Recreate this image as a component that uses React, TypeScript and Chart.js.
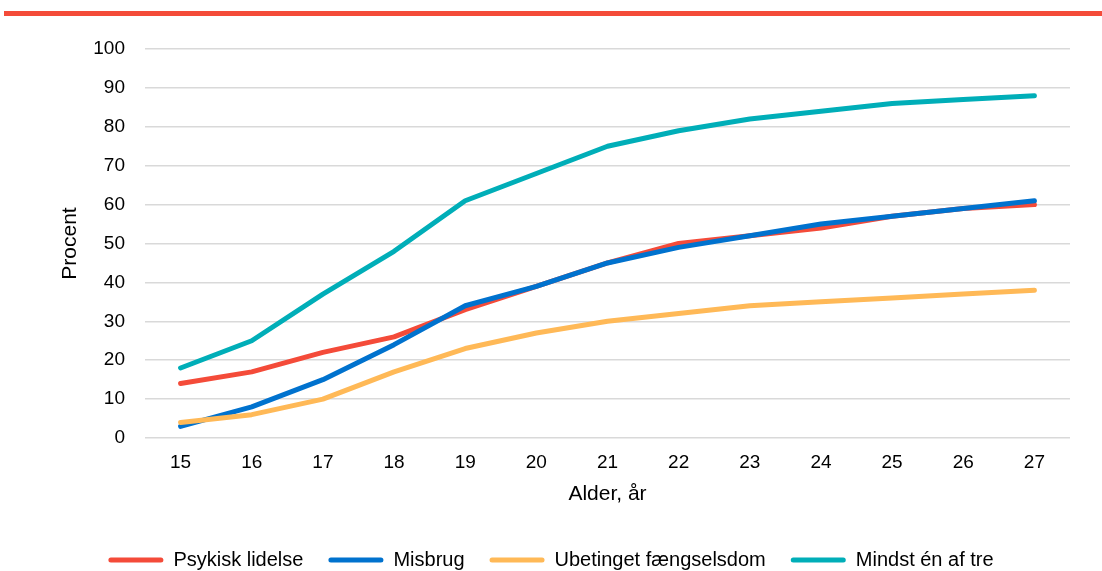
import React, { useEffect, useRef } from "react";
import { Chart, registerables } from "chart.js";

Chart.register(...registerables);

const ages = ["15", "16", "17", "18", "19", "20", "21", "22", "23", "24", "25", "26", "27"];
const psykiskLidelse = [14, 17, 22, 26, 33, 39, 45, 50, 52, 54, 57, 59, 60];
const misbrug = [3, 8, 15, 24, 34, 39, 45, 49, 52, 55, 57, 59, 61];
const ubetinget = [4, 6, 10, 17, 23, 27, 30, 32, 34, 35, 36, 37, 38];
const mindstEn = [18, 25, 37, 48, 61, 68, 75, 79, 82, 84, 86, 87, 88];

const seriesNames = ["Psykisk lidelse", "Misbrug", "Ubetinget fængselsdom", "Mindst én af tre"];
const seriesColors = ["#F44B39", "#0072CE", "#FFB957", "#00AEB8"];

const FONT = "'Liberation Sans', Arial, sans-serif";

export default function App() {
  const ref = useRef<HTMLCanvasElement | null>(null);

  useEffect(() => {
    if (!ref.current) return;
    const values = [psykiskLidelse, misbrug, ubetinget, mindstEn];
    const chart = new Chart(ref.current, {
      type: "line",
      data: {
        labels: ages,
        datasets: values.map((v, i) => ({
          label: seriesNames[i],
          data: v,
          borderColor: seriesColors[i],
          backgroundColor: seriesColors[i],
          borderWidth: 5,
          borderCapStyle: "round" as const,
          borderJoinStyle: "round" as const,
          pointRadius: 0,
          pointHoverRadius: 0,
          tension: 0,
          fill: false,
          order: 3 - i,
        })),
      },
      options: {
        responsive: false,
        animation: false,
        devicePixelRatio: 1,
        layout: { padding: { top: 49, right: 32, bottom: -9, left: 32 } },
        plugins: {
          tooltip: { enabled: false },
          legend: {
            position: "bottom",
            labels: {
              boxWidth: 55,
              boxHeight: 5,
              padding: 25,
              color: "#000000",
              font: { family: FONT, size: 20 },
              useBorderRadius: true,
              borderRadius: 2.5,
              sort: (a: any, b: any) => a.datasetIndex - b.datasetIndex,
              generateLabels: (c: any) =>
                Chart.defaults.plugins.legend.labels
                  .generateLabels(c)
                  .map((l: any) => ({ ...l, lineWidth: 0, borderRadius: 2.5 })),
            },
          },
        },
        scales: {
          x: {
            offset: true,
            grid: { display: false, drawTicks: false },
            border: { display: false },
            ticks: { padding: 13.1, color: "#000000", font: { family: FONT, size: 19 } },
            title: {
              display: true,
              text: "Alder, år",
              color: "#000000",
              font: { family: FONT, size: 21 },
              padding: { top: 0, bottom: 18.4 },
            },
            afterFit: (s: any) => {
              s.height = 87;
            },
          },
          y: {
            min: 0,
            max: 100,
            ticks: { stepSize: 10, padding: 20, color: "#000000", font: { family: FONT, size: 19 } },
            grid: { color: "#D9D9D9", lineWidth: 1.5, drawTicks: false },
            border: { display: false },
            title: {
              display: true,
              text: "Procent",
              color: "#000000",
              font: { family: FONT, size: 21 },
              padding: { top: 25.4, bottom: 0 },
            },
            afterFit: (s: any) => {
              s.width = 113;
            },
          },
        },
      },
    });
    return () => chart.destroy();
  }, []);

  return (
    <div style={{ position: "absolute", left: 0, top: 0, width: 1102, height: 571, background: "#ffffff" }}>
      <div style={{ position: "absolute", left: 4, top: 11, width: 1098, height: 5, background: "#F44B39" }} />
      <canvas ref={ref} width={1102} height={571} style={{ position: "absolute", left: 0, top: 0, width: 1102, height: 571 }} />
    </div>
  );
}
